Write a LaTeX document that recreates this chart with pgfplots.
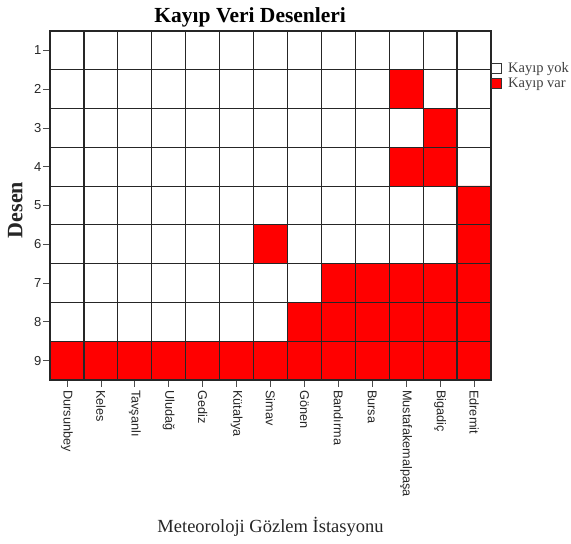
\documentclass[border=0pt]{standalone}
\usepackage{pgfplots}
\pgfplotsset{compat=1.18}
\usepackage{fontspec}
\setmainfont{Liberation Serif}
\newfontfamily\arial{Liberation Sans}
\begin{document}
\begin{tikzpicture}
\begin{axis}[
  name=ax,
  scale only axis,
  width=441pt, height=349pt,
  xmin=-0.5, xmax=12.5, ymin=0.5, ymax=9.5,
  y dir=reverse,
  axis on top,
  xtick={0,...,12},
  xticklabels={Dursunbey,Keles,Tavşanlı,Uludağ,Gediz,Kütahya,Simav,Gönen,Bandırma,Bursa,Mustafakemalpaşa,Bigadiç,Edremit},
  ytick={1,...,9},
  minor xtick={0.5,1.5,...,11.5},
  minor ytick={1.5,2.5,...,8.5},
  xminorgrids, yminorgrids,
  minor grid style={black!85, line width=1.2pt},
  minor tick length=0pt,
  tick align=outside,
  major tick length=7pt,
  tick style={black!70, line width=0.7pt},
  xtick pos=bottom, ytick pos=left,
  axis line style={black!85, line width=1.4pt},
  /pgf/number format/assume math mode=true,
  xticklabel style={font=\arial\fontsize{12.7}{14}\selectfont, text=black!85, rotate=-90, anchor=west, inner sep=3pt},
  yticklabel style={font=\arial\fontsize{13}{15}\selectfont, text=black!85, inner sep=1.5pt},
  every axis title shift=0pt,
  title={\textbf{Kayıp Veri Desenleri}},
  title style={font=\fontsize{21.5}{24}\selectfont, at={(axis description cs:0.454,1)}, anchor=base, yshift=8pt, inner sep=0pt},
  xlabel={Meteoroloji Gözlem İstasyonu},
  xlabel style={font=\fontsize{18.5}{21}\selectfont, text=black!85, at={(axis description cs:0.5,0)}, anchor=base, yshift=-153pt, inner sep=0pt},
  ylabel={\textbf{Desen}},
  ylabel style={font=\fontsize{22}{25}\selectfont, text=black!85, at={(axis description cs:-0.079,0.487)}, anchor=center, inner sep=0pt},
  colormap={wr}{color=(white) color=(red)},
  point meta min=0, point meta max=1,
  legend style={at={(1.0,0.912)}, anchor=north west, draw=none, fill=none,
    font=\fontsize{14.5}{15}\selectfont, text=black!75, row sep=3pt, inner sep=0pt,
    nodes={inner sep=0.5pt},
    /tikz/every odd column/.append style={column sep=6pt}},
  legend cell align=left,
]
\addplot[matrix plot*, mesh/cols=13, mesh/rows=9, point meta=explicit, forget plot] table[meta=z] {
x y z
0 1 0
1 1 0
2 1 0
3 1 0
4 1 0
5 1 0
6 1 0
7 1 0
8 1 0
9 1 0
10 1 0
11 1 0
12 1 0
0 2 0
1 2 0
2 2 0
3 2 0
4 2 0
5 2 0
6 2 0
7 2 0
8 2 0
9 2 0
10 2 1
11 2 0
12 2 0
0 3 0
1 3 0
2 3 0
3 3 0
4 3 0
5 3 0
6 3 0
7 3 0
8 3 0
9 3 0
10 3 0
11 3 1
12 3 0
0 4 0
1 4 0
2 4 0
3 4 0
4 4 0
5 4 0
6 4 0
7 4 0
8 4 0
9 4 0
10 4 1
11 4 1
12 4 0
0 5 0
1 5 0
2 5 0
3 5 0
4 5 0
5 5 0
6 5 0
7 5 0
8 5 0
9 5 0
10 5 0
11 5 0
12 5 1
0 6 0
1 6 0
2 6 0
3 6 0
4 6 0
5 6 0
6 6 1
7 6 0
8 6 0
9 6 0
10 6 0
11 6 0
12 6 1
0 7 0
1 7 0
2 7 0
3 7 0
4 7 0
5 7 0
6 7 0
7 7 0
8 7 1
9 7 1
10 7 1
11 7 1
12 7 1
0 8 0
1 8 0
2 8 0
3 8 0
4 8 0
5 8 0
6 8 0
7 8 1
8 8 1
9 8 1
10 8 1
11 8 1
12 8 1
0 9 1
1 9 1
2 9 1
3 9 1
4 9 1
5 9 1
6 9 1
7 9 1
8 9 1
9 9 1
10 9 1
11 9 1
12 9 1
};
\addlegendimage{only marks, mark=square*, mark size=5.2pt, mark options={draw=black!80, fill=white, line width=0.7pt}}
\addlegendentry{Kayıp yok}
\addlegendimage{only marks, mark=square*, mark size=5.2pt, mark options={draw=black!80, fill=red, line width=0.7pt}}
\addlegendentry{Kayıp var}
\end{axis}
\pgfresetboundingbox
\path[use as bounding box] ([xshift=-50pt,yshift=-164pt]ax.south west) rectangle ([xshift=80pt,yshift=31pt]ax.north east);
\end{tikzpicture}
\end{document}
